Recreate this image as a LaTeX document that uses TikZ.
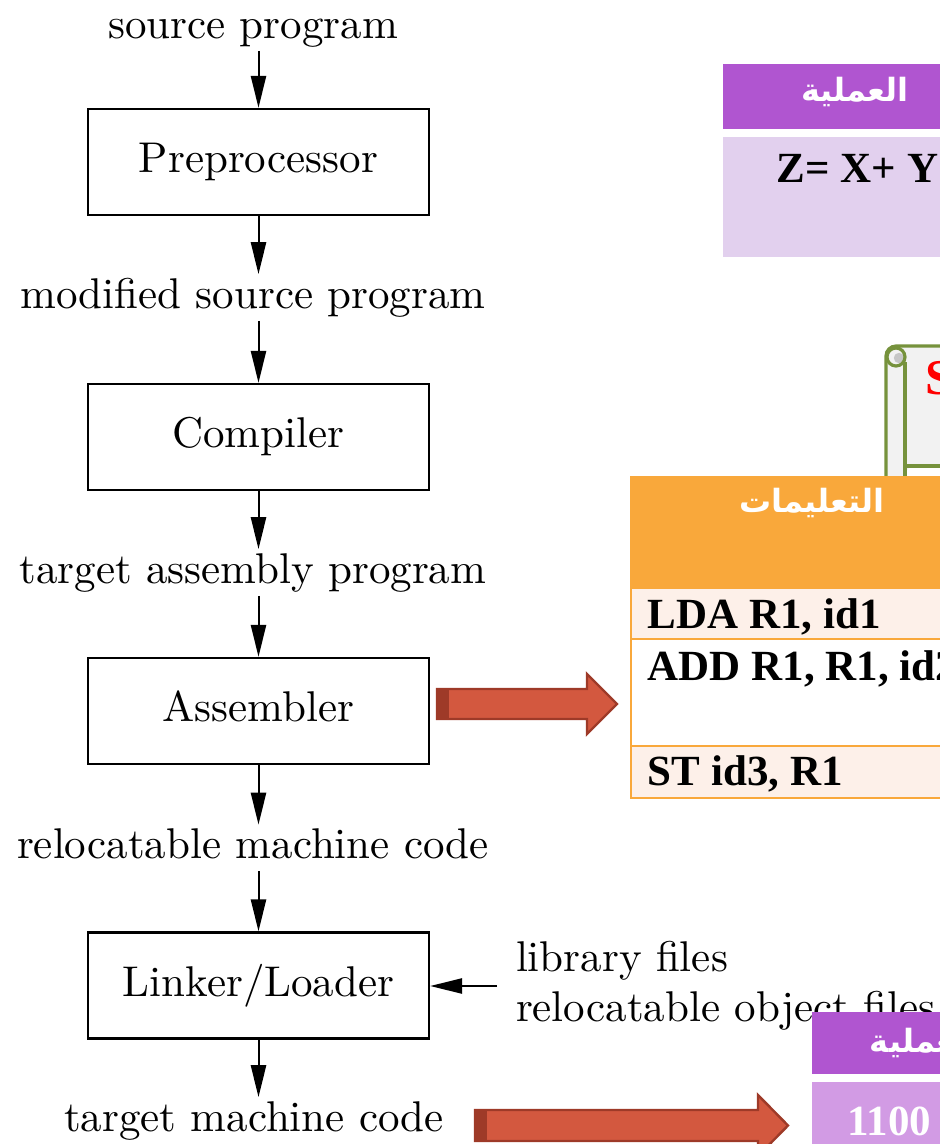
\documentclass[tikz,border=0pt]{standalone}
\usepackage{fontspec}
\newfontfamily\timesfont{Liberation Serif}
\newfontfamily\arabicfont[Script=Arabic]{DejaVu Sans}
\TeXXeTstate=1
\usetikzlibrary{arrows.meta,positioning}

\definecolor{purplehead}{RGB}{176,85,208}
\definecolor{purplebody}{RGB}{226,208,238}
\definecolor{purplelight}{RGB}{210,155,228}
\definecolor{orangehead}{RGB}{249,168,59}
\definecolor{creamrow}{RGB}{253,240,233}
\definecolor{scrollgreen}{RGB}{118,146,60}
\definecolor{scrollgray}{RGB}{242,242,242}
\definecolor{arrowred}{RGB}{211,88,63}
\definecolor{arrowdark}{RGB}{158,58,40}

\tikzset{
  stage/.style={draw, line width=0.6pt, minimum width=85.25pt, minimum height=26.5pt,
    text height=7.5pt, text depth=2.1pt, font={\fontsize{10.75}{12.5}\selectfont}},
  lbl/.style={inner sep=0.8pt, text height=7.5pt, text depth=2.2pt,
    font={\fontsize{10.75}{12.5}\selectfont}},
  libtext/.style={inner sep=0.8pt, align=left, font={\fontsize{10.75}{12.5}\selectfont}},
  flow/.style={line width=0.5pt, -{Triangle[length=8pt,width=3.8pt]}},
  bigarrow/.style={fill=arrowred, draw=arrowdark, line width=0.6pt},
  tabtext/.style={anchor=base west, inner sep=0pt, font={\timesfont\bfseries\fontsize{10.75}{12}\selectfont}},
  artext/.style={inner sep=0pt, text=white, font={\arabicfont\bfseries\fontsize{8}{10}\selectfont}},
  scrollline/.style={draw=scrollgreen, line width=0.8pt}
}

\begin{document}
\begin{tikzpicture}[x=0.25pt,y=0.25pt,yscale=-1]
\useasboundingbox (0,0) rectangle (940,1144);

% Text Node
\node[lbl] (src) at (253,27.5) {source program};
\node[stage] (pre) at (258.5,162) {Preprocessor};
\node[lbl] (mod) at (253,297.5) {modified source program};
\node[stage] (comp) at (258.5,437) {Compiler};
\node[lbl] (tasm) at (253,572.5) {target assembly program};
\node[stage] (asm) at (258.5,711) {Assembler};
\node[lbl] (reloc) at (253,848) {relocatable machine code};
\node[stage] (link) at (258.5,985.5) {Linker/Loader};
\node[lbl] (tmc) at (254,1120.5) {target machine code};
\node[libtext, anchor=west] (lib) at (512,986) {library files\\relocatable object files};
\coordinate (libin) at ([xshift=-3.75pt]lib.west);

%Straight Lines
\draw[flow] (src.south -| pre.north) -- (pre.north);
\draw[flow] (pre.south) -- (pre.south |- mod.north);
\draw[flow] (mod.south -| comp.north) -- (comp.north);
\draw[flow] (comp.south) -- (comp.south |- tasm.north);
\draw[flow] (tasm.south -| asm.north) -- (asm.north);
\draw[flow] (asm.south) -- (asm.south |- reloc.north);
\draw[flow] (reloc.south -| link.north) -- (link.north);
\draw[flow] (link.south) -- (link.south |- tmc.north);
\draw[flow] (libin) -- (libin -| link.east);

%Shape: top table
\fill[purplehead] (723,64) rectangle (950,129);
\fill[purplebody] (723,137) rectangle (950,257);
\node[artext] (ophead) at (855,92) {\beginR العملية\endR};
\node[tabtext] (expr) at (776,183) {Z= X+ Y};

%Shape: scroll
\fill[scrollgray, rounded corners=2.5pt] (886,500) -- (886,346) -- (950,346) -- (950,466) -- (905,466) -- (905,500) -- cycle;
\draw[scrollline, rounded corners=2.5pt] (886,500) -- (886,346) -- (950,346);
\draw[scrollline] (905,500) -- (905,362) (905,466) -- (950,466);
\fill[gray!45] (899,358) circle (1.3pt);
\draw[scrollline] (896,357) circle (2.25pt);
\node[anchor=base west, inner sep=0pt, text=red, font={\timesfont\bfseries\fontsize{12.5}{14}\selectfont}] (stitle) at (925,395) {S};

%Shape: instruction table
\fill[orangehead] (631,477) rectangle (950,588);
\fill[creamrow] (631,588) rectangle (950,639);
\fill[white] (631,639) rectangle (950,746);
\fill[creamrow] (631,746) rectangle (950,798);
\draw[orangehead, line width=0.6pt] (631,477) rectangle (950,798)
  (631,588) -- (950,588) (631,639) -- (950,639) (631,746) -- (950,746);
\node[artext] (inshead) at (812,503) {\beginR التعليمات\endR};
\node[tabtext] (ins1) at (647,628) {LDA R1, id1};
\node[tabtext] (ins2) at (647,680) {ADD R1, R1, id2};
\node[tabtext] (ins3) at (647,785) {ST id3, R1};

%Shape: bottom table
\fill[purplehead] (812,1012) rectangle (950,1074);
\fill[purplelight] (812,1082) rectangle (950,1150);
\node[artext] (ophead2) at (924,1043) {\beginR العملية\endR};
\node[tabtext, text=white] (bits) at (847,1135) {1100};

%Shape: block arrows
\filldraw[bigarrow] (437,689) -- (587,689) -- (587,674) -- (617,704) -- (587,734) -- (587,719) -- (437,719) -- cycle;
\fill[arrowdark] (437,689) rectangle (449,719);
\filldraw[bigarrow] (475,1110) -- (758,1110) -- (758,1095) -- (788,1125.5) -- (758,1156) -- (758,1141) -- (475,1141) -- cycle;
\fill[arrowdark] (475,1110) rectangle (487,1141);

\end{tikzpicture}
\end{document}
